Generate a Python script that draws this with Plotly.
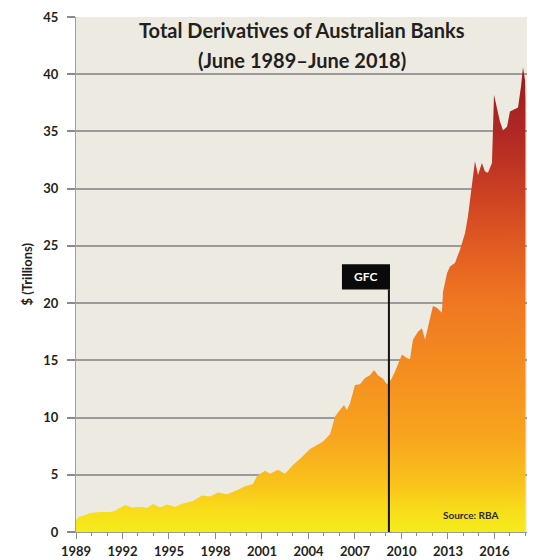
import plotly.graph_objects as go

# Years since June 1989 (x offsets) and total derivatives ($ trillions)
year_offsets = [0.00, 0.19, 0.52, 0.90, 1.55, 2.19, 2.52, 3.16, 3.61, 4.26, 4.58, 4.97, 5.42, 5.87,
                6.39, 6.90, 7.55, 8.13, 8.65, 9.16, 9.74, 10.13, 10.45, 10.90, 11.42, 11.68, 12.19,
                12.52, 13.03, 13.48, 14.00, 14.58, 15.10, 15.55, 15.94, 16.39, 16.71, 17.03, 17.29,
                17.48, 17.68, 18.00, 18.32, 18.65, 18.97, 19.23, 19.48, 19.81, 20.06, 20.32, 20.58,
                21.03, 21.35, 21.55, 21.74, 22.06, 22.32, 22.52, 22.84, 23.03, 23.29, 23.61, 23.68,
                23.94, 24.13, 24.45, 24.77, 25.10, 25.29, 25.55, 25.74, 25.94, 26.19, 26.39, 26.58,
                26.84, 26.97, 27.16, 27.35, 27.55, 27.81, 28.00, 28.19, 28.52, 28.71, 28.84, 28.97,
                29.00]
values = [1.05, 1.3, 1.45, 1.65, 1.75, 1.75, 1.86, 2.36, 2.15, 2.2, 2.1, 2.45, 2.15, 2.4,
          2.2, 2.5, 2.7, 3.2, 3.1, 3.45, 3.3, 3.5, 3.7, 4.0, 4.2, 4.9, 5.35,
          5.1, 5.45, 5.1, 5.85, 6.55, 7.25, 7.6, 7.9, 8.55, 10.1, 10.65, 11.1,
          10.65, 11.25, 12.85, 12.9, 13.45, 13.7, 14.15, 13.7, 13.4, 12.9, 13.3, 14.0,
          15.5, 15.2, 15.1, 16.8, 17.5, 17.8, 16.8, 18.5, 19.75, 19.6, 19.15, 21.0,
          22.6, 23.2, 23.5, 24.65, 26.1, 27.6, 30.2, 32.4, 31.2, 32.25, 31.5, 31.4,
          32.25, 38.2, 37.05, 35.9, 35.1, 35.4, 36.75, 36.9, 37.1, 38.9, 40.6, 39.5,
          37.8]
years = [1989 + o for o in year_offsets]

tick_years = [1989, 1992, 1995, 1998, 2001, 2004, 2007, 2010, 2013, 2016]
tick_labels = [str(y) for y in tick_years]
y_ticks = [0, 5, 10, 15, 20, 25, 30, 35, 40, 45]

gfc_x = 2009.19
gfc_box = (2006.16, 2009.26, 21.2, 23.4)

title_lines = ["Total Derivatives of Australian Banks", "(June 1989\u2013June 2018)"]
FONT = "Lato"

fig = go.Figure()
fig.add_trace(go.Scatter(
    x=years, y=values, mode="lines", line=dict(width=0, color="rgba(0,0,0,0)"),
    fill="tozeroy",
    fillgradient=dict(
        type="vertical", start=0, stop=40.6,
        colorscale=[[0.0, "#F5EC1A"], [0.05, "#F8DC1A"], [0.1, "#F9C41B"], [0.2, "#F8A61E"],
                    [0.32, "#F5921F"], [0.5, "#EF7621"], [0.62, "#E05A22"], [0.74, "#C93E23"],
                    [0.86, "#B02823"], [1.0, "#9B1B1F"]],
    ),
    hoverinfo="skip", showlegend=False,
))

# GFC marker line and box
fig.add_shape(type="line", x0=gfc_x, x1=gfc_x, y0=0, y1=gfc_box[2],
              line=dict(color="#111111", width=2), layer="above")
fig.add_shape(type="rect", x0=gfc_box[0], x1=gfc_box[1], y0=gfc_box[2], y1=gfc_box[3],
              fillcolor="#0a0a0a", line=dict(width=0), layer="above")
fig.add_annotation(x=(gfc_box[0] + gfc_box[1]) / 2, y=(gfc_box[2] + gfc_box[3]) / 2,
                   text="<b>GFC</b>", showarrow=False,
                   font=dict(family=FONT, size=12, color="white"))

fig.add_annotation(x=2014.48, y=1.5, text="<b>Source: RBA</b>", showarrow=False,
                   font=dict(family=FONT, size=10, color="#2a2a2a"))

# Title
fig.add_annotation(xref="paper", yref="paper", x=0.5, y=1, yshift=-13, yanchor="middle",
                   text="<b>" + title_lines[0] + "</b>", showarrow=False,
                   font=dict(family=FONT, size=20, color="#231f20"))
fig.add_annotation(xref="paper", yref="paper", x=0.5, y=1, yshift=-43, yanchor="middle",
                   text="<b>" + title_lines[1] + "</b>", showarrow=False,
                   font=dict(family=FONT, size=20, color="#231f20"))

# Y axis title
fig.add_annotation(xref="paper", yref="paper", x=0, xshift=-60, y=0.5,
                   text="<b>$ (Trillions)</b>", textangle=-90, showarrow=False,
                   font=dict(family=FONT, size=13, color="#231f20"))

fig.update_layout(
    width=535, height=560,
    margin=dict(l=76, r=8, t=17, b=28),
    paper_bgcolor="white", plot_bgcolor="#EDEBE1",
    font=dict(family=FONT, color="#231f20"),
    xaxis=dict(
        range=[1989, 2018.1], tickvals=tick_years, ticktext=tick_labels,
        ticks="outside", ticklen=6, tickwidth=1, tickcolor="#8a8a8a",
        showline=True, linecolor="#9a9a9a", linewidth=1,
        showgrid=False, zeroline=False, automargin=False,
        tickfont=dict(family=FONT, size=13, color="#231f20", weight="bold"),
        ticklabelstandoff=1,
        minor=dict(dtick=1, tick0=1989, ticks="outside", ticklen=3, tickcolor="#8a8a8a", showgrid=False),
    ),
    yaxis=dict(
        range=[0, 45], tickvals=y_ticks, automargin=False,
        ticks="outside", ticklen=8, tickwidth=1.5, tickcolor="#8a8a8a",
        showline=True, linecolor="#a0a0a0", linewidth=1,
        showgrid=True, gridcolor="#9b9b9b", gridwidth=1.5, zeroline=False,
        tickfont=dict(family=FONT, size=13, color="#231f20", weight="bold"),
        ticklabelstandoff=6,
    ),
)

fig.write_html("out.html")
